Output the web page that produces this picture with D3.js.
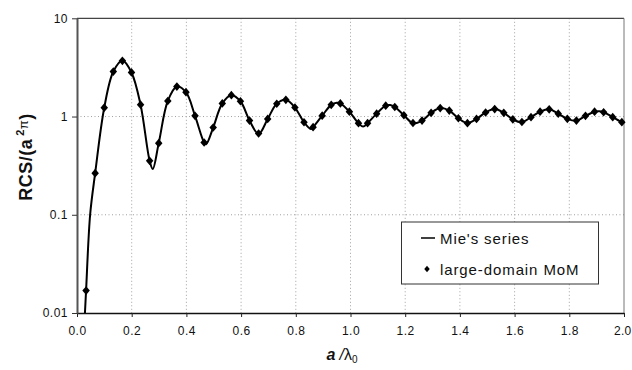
<!DOCTYPE html>
<html>
<head>
<meta charset="utf-8">
<script src="https://cdn.jsdelivr.net/npm/d3@7"></script>
<style>
  html, body { margin: 0; padding: 0; background: #fff; }
  svg { display: block; }
  text { font-family: "Liberation Sans", Arial, sans-serif; fill: #111; }
</style>
</head>
<body>
<svg id="chart" width="632" height="370"></svg>
<script>
// ---- data ----
const mieX = [0.020,0.029,0.0332,0.048,0.0664,0.0996,0.1328,0.166,0.1992,0.2324,0.2656,0.277,0.2988,0.332,0.3652,0.3984,0.4316,0.4648,0.472,0.498,0.5312,0.5644,0.5976,0.6308,0.664,0.6972,0.7304,0.7636,0.7968,0.83,0.856,0.8632,0.8964,0.9296,0.95,0.9628,0.996,1.0292,1.046,1.0624,1.0956,1.1288,1.145,1.162,1.1952,1.2284,1.2616,1.2948,1.328,1.3612,1.3944,1.4276,1.4608,1.494,1.5272,1.5604,1.5936,1.625,1.66,1.6932,1.7264,1.7596,1.7928,1.826,1.8592,1.8924,1.91,1.9256,1.9588,1.992,2.0];
const mieY = [0.0035,0.010,0.0169,0.10,0.265,1.23,2.87,3.72,2.81,1.32,0.354,0.292,0.536,1.44,2.02,1.77,1.016,0.544,0.522,0.773,1.36,1.65,1.43,0.91,0.665,0.945,1.35,1.48,1.235,0.875,0.745,0.78,1.02,1.316,1.38,1.36,1.12,0.856,0.79,0.856,1.07,1.29,1.31,1.25,1.03,0.855,0.91,1.09,1.22,1.15,0.96,0.856,0.945,1.10,1.19,1.09,0.935,0.875,0.985,1.12,1.185,1.07,0.947,0.905,1.016,1.12,1.13,1.105,0.986,0.877,0.865];

const momX = [0.0332,0.0664,0.0996,0.1328,0.166,0.1992,0.2324,0.2656,0.2988,0.332,0.3652,0.3984,0.4316,0.4648,0.498,0.5312,0.5644,0.5976,0.6308,0.664,0.6972,0.7304,0.7636,0.7968,0.83,0.8632,0.8964,0.9296,0.9628,0.996,1.0292,1.0624,1.0956,1.1288,1.162,1.1952,1.2284,1.2616,1.2948,1.328,1.3612,1.3944,1.4276,1.4608,1.494,1.5272,1.5604,1.5936,1.6268,1.66,1.6932,1.7264,1.7596,1.7928,1.826,1.8592,1.8924,1.9256,1.9588,1.992];
const momY = [0.0169,0.265,1.23,2.87,3.69,2.81,1.32,0.354,0.536,1.44,
              2.02,1.77,1.016,0.544,0.773,1.36,1.65,1.43,0.91,0.672,
              0.945,1.35,1.48,1.235,0.875,0.78,1.02,1.316,1.36,1.12,
              0.856,0.856,1.07,1.29,1.25,1.03,0.86,0.91,1.09,1.22,
              1.15,0.96,0.856,0.945,1.10,1.19,1.09,0.935,0.88,0.985,
              1.12,1.185,1.07,0.947,0.91,1.016,1.12,1.105,0.986,0.877];

const xTicks = [0.0,0.2,0.4,0.6,0.8,1.0,1.2,1.4,1.6,1.8,2.0];
const xTickLabels = ["0.0","0.2","0.4","0.6","0.8","1.0","1.2","1.4","1.6","1.8","2.0"];
const yTicks = [0.01,0.1,1,10];
const yTickLabels = ["0.01","0.1","1","10"];
const legendLabels = ["Mie's series","large-domain MoM"];

// ---- layout ----
const L = 77, R = 624, T = 18.3, B = 313;
const svg = d3.select("#chart");
const x = d3.scaleLinear().domain([0, 2]).range([L, R]);
const y = d3.scaleLog().domain([0.01, 10]).range([B, T]);

svg.append("defs").append("clipPath").attr("id", "clip")
  .append("rect").attr("x", L).attr("y", T).attr("width", R - L).attr("height", B - T);

// grid
const grid = svg.append("g");
grid.selectAll("line.vg").data(xTicks.filter(d => d > 0 && d < 2)).join("line")
  .attr("x1", d => x(d)).attr("x2", d => x(d)).attr("y1", T).attr("y2", B)
  .attr("stroke", "#a0a0a0").attr("stroke-width", 1).attr("stroke-dasharray", "1,2.5");
grid.selectAll("line.hg").data(yTicks.filter(d => d > 0.01 && d < 10)).join("line")
  .attr("x1", L).attr("x2", R).attr("y1", d => y(d)).attr("y2", d => y(d))
  .attr("stroke", "#a0a0a0").attr("stroke-width", 1).attr("stroke-dasharray", "1,2.5");

// frame (top and right)
svg.append("line").attr("x1", L).attr("x2", R).attr("y1", T).attr("y2", T)
  .attr("stroke", "#444").attr("stroke-width", 1.2);
svg.append("line").attr("x1", R).attr("x2", R).attr("y1", T).attr("y2", B)
  .attr("stroke", "#777").attr("stroke-width", 1);

// axes
const xAxis = svg.append("g").attr("transform", `translate(0,${B})`)
  .call(d3.axisBottom(x).tickValues(xTicks).tickFormat((d, i) => xTickLabels[i]).tickSize(4).tickSizeOuter(0).tickPadding(9));
xAxis.select(".domain").attr("stroke", "#111").attr("stroke-width", 1.6);
xAxis.selectAll(".tick line").attr("stroke", "#222");
xAxis.selectAll(".tick text").attr("font-size", "12px").attr("letter-spacing", "0.5px")
  .attr("font-family", "'Liberation Sans', Arial, sans-serif").attr("fill", "#111");
// keep the last label inside the picture
xAxis.selectAll(".tick text").filter(d => d === 2).attr("text-anchor", "end")
  .attr("letter-spacing", "0.3px").attr("x", 631 - R);

const yAxis = svg.append("g").attr("transform", `translate(${L},0)`)
  .call(d3.axisLeft(y).tickValues(yTicks).tickFormat((d, i) => yTickLabels[i]).tickSize(5).tickSizeOuter(0).tickPadding(4));
yAxis.select(".domain").attr("stroke", "#555").attr("stroke-width", 2);
yAxis.selectAll(".tick line").attr("stroke", "#333");
yAxis.selectAll(".tick text").attr("font-size", "12px").attr("letter-spacing", "0.5px")
  .attr("font-family", "'Liberation Sans', Arial, sans-serif").attr("fill", "#111");

// Mie line
const mieData = mieX.map((d, i) => [d, mieY[i]]);
svg.append("path").datum(mieData)
  .attr("clip-path", "url(#clip)")
  .attr("fill", "none").attr("stroke", "#000").attr("stroke-width", 2)
  .attr("d", d3.line().x(d => x(d[0])).y(d => y(d[1])).curve(d3.curveCatmullRom.alpha(0.5)));

// MoM diamonds
const diamond = {
  draw(ctx, size) {
    const w = Math.sqrt(size) * 0.5, h = Math.sqrt(size) * 0.58;
    ctx.moveTo(0, -h); ctx.lineTo(w, 0); ctx.lineTo(0, h); ctx.lineTo(-w, 0); ctx.closePath();
  }
};
const momData = momX.map((d, i) => [d, momY[i]]);
svg.append("g").selectAll("path").data(momData).join("path")
  .attr("transform", d => `translate(${x(d[0])},${y(d[1])})`)
  .attr("d", d3.symbol().type(diamond).size(56))
  .attr("fill", "#000");

// legend
const lg = svg.append("g");
lg.append("rect").attr("x", 401.5).attr("y", 222).attr("width", 197).attr("height", 62)
  .attr("fill", "#fff").attr("stroke", "#333").attr("stroke-width", 1);
lg.append("line").attr("x1", 421).attr("x2", 435).attr("y1", 238).attr("y2", 238)
  .attr("stroke", "#000").attr("stroke-width", 1.5);
lg.append("path").attr("transform", "translate(427,269)")
  .attr("d", d3.symbol().type(diamond).size(30)).attr("fill", "#000");
lg.selectAll("text").data(legendLabels).join("text")
  .attr("x", 440).attr("y", (d, i) => 243.5 + i * 31)
  .attr("font-size", "15px").attr("letter-spacing", "0.9px")
  .text(d => d);

// y label
const yl = svg.append("text")
  .attr("transform", "translate(32,157) rotate(-90)")
  .attr("text-anchor", "middle")
  .attr("font-size", "18px").attr("font-weight", "bold").attr("letter-spacing", "0.5px");
yl.append("tspan").text("RCS/(a");
yl.append("tspan").attr("font-size", "11px").attr("dy", -8).attr("dx", 3).text("2");
yl.append("tspan").attr("font-size", "13px").attr("font-weight", "normal").attr("dy", 4).text("π");
yl.append("tspan").attr("dy", 4).text(")");

// x label
const xl = svg.append("text")
  .attr("x", 342).attr("y", 360).attr("text-anchor", "middle").attr("font-size", "16px");
xl.append("tspan").attr("font-weight", "bold").attr("font-style", "italic").text("a");
xl.append("tspan").attr("font-style", "italic").attr("dx", 4).text("/");
xl.append("tspan").attr("font-size", "16px").text("λ");
xl.append("tspan").attr("font-size", "10px").attr("dy", 3).text("0");
</script>
</body>
</html>
